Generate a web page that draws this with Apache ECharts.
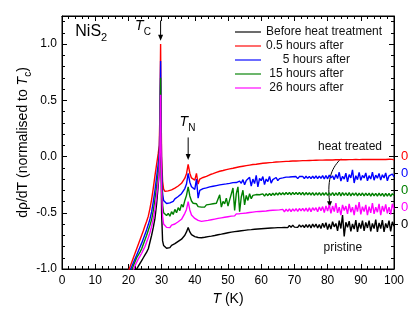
<!DOCTYPE html>
<html><head><meta charset="utf-8">
<script src="https://cdn.jsdelivr.net/npm/echarts@6/dist/echarts.min.js"></script>
<style>html,body{margin:0;padding:0;background:#fff}#c{width:415px;height:318px}</style>
</head><body><div id="c"></div>
<script>
const seriesNames = ['Before heat treatment', '0.5 hours after', '     5 hours after', ' 15 hours after', ' 26 hours after'];
const seriesColors = ['#000000', '#ff0000', '#0000ff', '#008000', '#ff00ff'];
const offsetTicks = [0, -0.15, -0.3, -0.45, -0.6];
const offsetColors = ['#ff0000', '#0000ff', '#008000', '#ff00ff', '#000000'];

const tempsLow = [19.5,20,20.5,21,21.5,22,22.5,23,23.5,24,24.5,25,25.5,26,26.5,27,27.5,28,28.5,29,29.3,29.5,29.6,29.7,29.8,30,30.3,30.6];
const tempsHigh = [31,31.5,32,32.5,33,33.5,34,34.5,35,35.5,
 36,36.5,37,37.5,38,38.5,39,39.5,40,40.5,
 41,41.5,42,42.5,43,43.5,44,44.5,45,45.5,
 46,46.5,47,47.5,48,48.5,49,49.5,50,50.5,
 51,51.5,52,52.5,53,53.5,54,54.5,55,55.5,
 56,56.5,57,57.5,58,58.5,59,59.5,60,60.5,
 61,61.5,62,62.5,63,63.5,64,64.5,65,65.5,
 66,66.5,67,67.5,68,68.5,69,69.5,70,70.5,
 71,71.5,72,72.5,73,73.5,74,74.5,75,75.5,
 76,76.5,77,77.5,78,78.5,79,79.5,80,80.5,
 81,81.5,82,82.5,83,83.5,84,84.5,85,85.5,
 86,86.5,87,87.5,88,88.5,89,89.5,90,90.5,
 91,91.5,92,92.5,93,93.5,94,94.5,95,95.5,
 96,96.5,97,97.5,98,98.5,99,99.5,100];

const blackVals = [-1.3,-1.25,-1.2,-1.14,-1.09,-1.04,-1.0,-0.975,-0.95,-0.925,-0.9,-0.875,-0.85,-0.82,-0.76,-0.7,-0.63,-0.55,-0.42,-0.25,-0.12,0.1,0.3,0.4,0.05,-0.5,-0.75,-0.79,
 -0.8,-0.815,-0.805,-0.81,-0.79,-0.795,-0.775,-0.78,-0.755,-0.76,
 -0.735,-0.72,-0.7,-0.67,-0.63,-0.67,-0.695,-0.705,-0.712,-0.708,
 -0.72,-0.712,-0.722,-0.71,-0.718,-0.705,-0.712,-0.7,-0.708,-0.695,
 -0.702,-0.69,-0.695,-0.682,-0.69,-0.676,-0.684,-0.67,-0.678,-0.665,
 -0.672,-0.66,-0.668,-0.655,-0.664,-0.65,-0.66,-0.646,-0.656,-0.643,
 -0.652,-0.64,-0.65,-0.636,-0.646,-0.634,-0.644,-0.63,-0.642,-0.628,
 -0.64,-0.626,-0.638,-0.624,-0.636,-0.622,-0.634,-0.62,-0.632,-0.618,
 -0.632,-0.616,-0.63,-0.614,-0.632,-0.612,-0.63,-0.61,-0.628,-0.612,
 -0.63,-0.608,-0.628,-0.61,-0.632,-0.606,-0.63,-0.604,-0.635,-0.6,
 -0.628,-0.6,-0.635,-0.605,-0.64,-0.592,-0.632,-0.588,-0.65,-0.6,
 -0.645,-0.58,-0.625,-0.595,-0.66,-0.57,-0.64,-0.52,-0.71,-0.585,
 -0.63,-0.575,-0.665,-0.6,-0.645,-0.565,-0.67,-0.59,-0.64,-0.57,
 -0.66,-0.585,-0.635,-0.57,-0.665,-0.595,-0.64,-0.56,-0.67,-0.59,
 -0.64,-0.565,-0.67,-0.595,-0.635,-0.57,-0.665,-0.58,-0.62];

const redVals = [-1.06,-1.02,-0.98,-0.94,-0.9,-0.86,-0.82,-0.78,-0.74,-0.7,-0.66,-0.615,-0.575,-0.53,-0.46,-0.38,-0.28,-0.17,-0.07,0.03,0.1,0.4,0.7,1.0,0.55,0.0,-0.22,-0.29,
 -0.31,-0.325,-0.305,-0.318,-0.296,-0.3,-0.28,-0.287,-0.262,-0.258,
 -0.238,-0.226,-0.192,-0.152,-0.07,-0.148,-0.19,-0.198,-0.21,-0.15,
 -0.245,-0.2,-0.198,-0.186,-0.19,-0.176,-0.174,-0.162,-0.163,-0.152,
 -0.153,-0.141,-0.143,-0.131,-0.134,-0.124,-0.128,-0.116,-0.121,-0.11,
 -0.113,-0.104,-0.108,-0.097,-0.101,-0.091,-0.095,-0.086,-0.09,-0.081,
 -0.085,-0.076,-0.081,-0.071,-0.077,-0.068,-0.073,-0.064,-0.069,-0.06,
 -0.066,-0.057,-0.063,-0.054,-0.06,-0.052,-0.058,-0.049,-0.056,-0.047,
 -0.054,-0.045,-0.052,-0.043,-0.05,-0.042,-0.049,-0.04,-0.048,-0.039,
 -0.046,-0.038,-0.045,-0.036,-0.044,-0.036,-0.043,-0.035,-0.042,-0.034,
 -0.041,-0.033,-0.041,-0.032,-0.04,-0.032,-0.039,-0.031,-0.039,-0.03,
 -0.038,-0.03,-0.038,-0.029,-0.037,-0.029,-0.037,-0.028,-0.037,-0.028,
 -0.036,-0.027,-0.036,-0.027,-0.036,-0.026,-0.035,-0.027,-0.035,-0.026,
 -0.035,-0.026,-0.034,-0.025,-0.034,-0.026,-0.035,-0.025,-0.034,-0.026,
 -0.033,-0.025,-0.034,-0.026,-0.033,-0.024,-0.034,-0.025,-0.03];

const blueVals = [-1.1,-1.06,-1.015,-0.98,-0.945,-0.91,-0.875,-0.84,-0.805,-0.77,-0.73,-0.69,-0.65,-0.605,-0.555,-0.49,-0.4,-0.3,-0.18,-0.06,0.02,0.3,0.6,0.85,0.45,-0.1,-0.33,-0.39,
 -0.405,-0.418,-0.408,-0.412,-0.395,-0.398,-0.376,-0.382,-0.355,-0.35,
 -0.33,-0.316,-0.285,-0.245,-0.15,-0.228,-0.268,-0.282,-0.292,-0.2,
 -0.37,-0.3,-0.296,-0.285,-0.292,-0.278,-0.283,-0.27,-0.277,-0.264,
 -0.27,-0.258,-0.264,-0.252,-0.26,-0.247,-0.255,-0.243,-0.25,-0.238,
 -0.246,-0.232,-0.24,-0.231,-0.236,-0.218,-0.238,-0.205,-0.25,-0.212,
 -0.228,-0.185,-0.262,-0.2,-0.24,-0.168,-0.27,-0.195,-0.214,-0.178,
 -0.25,-0.2,-0.222,-0.176,-0.236,-0.205,-0.212,-0.186,-0.214,-0.196,
 -0.205,-0.19,-0.2,-0.183,-0.198,-0.182,-0.196,-0.18,-0.197,-0.178,
 -0.196,-0.178,-0.195,-0.176,-0.197,-0.175,-0.194,-0.176,-0.196,-0.174,
 -0.195,-0.172,-0.196,-0.174,-0.193,-0.17,-0.2,-0.168,-0.198,-0.165,
 -0.19,-0.172,-0.205,-0.16,-0.196,-0.14,-0.218,-0.175,-0.2,-0.148,
 -0.226,-0.16,-0.19,-0.118,-0.235,-0.17,-0.205,-0.14,-0.212,-0.168,
 -0.19,-0.145,-0.215,-0.17,-0.2,-0.138,-0.21,-0.165,-0.192,-0.15,
 -0.21,-0.162,-0.19,-0.145,-0.215,-0.172,-0.185,-0.155,-0.18];

const greenVals = [-1.14,-1.1,-1.05,-1.01,-0.97,-0.935,-0.9,-0.875,-0.85,-0.82,-0.78,-0.74,-0.7,-0.655,-0.61,-0.56,-0.48,-0.38,-0.27,-0.14,-0.06,0.2,0.45,0.7,0.3,-0.2,-0.43,-0.5,
 -0.51,-0.525,-0.505,-0.53,-0.49,-0.515,-0.47,-0.5,-0.455,-0.48,
 -0.425,-0.45,-0.39,-0.345,-0.27,-0.35,-0.395,-0.415,-0.43,-0.42,
 -0.445,-0.44,-0.45,-0.435,-0.448,-0.43,-0.442,-0.425,-0.44,-0.42,
 -0.43,-0.415,-0.43,-0.34,-0.45,-0.4,-0.42,-0.37,-0.44,-0.385,
 -0.4,-0.28,-0.48,-0.33,-0.27,-0.49,-0.36,-0.3,-0.43,-0.345,
 -0.39,-0.33,-0.375,-0.345,-0.36,-0.338,-0.355,-0.34,-0.35,-0.332,
 -0.352,-0.33,-0.348,-0.328,-0.346,-0.326,-0.344,-0.324,-0.342,-0.322,
 -0.34,-0.322,-0.34,-0.32,-0.338,-0.32,-0.34,-0.318,-0.338,-0.32,
 -0.338,-0.32,-0.34,-0.318,-0.342,-0.32,-0.34,-0.322,-0.342,-0.32,
 -0.345,-0.322,-0.342,-0.32,-0.345,-0.322,-0.344,-0.32,-0.346,-0.322,
 -0.345,-0.32,-0.348,-0.322,-0.345,-0.318,-0.35,-0.32,-0.346,-0.322,
 -0.348,-0.32,-0.35,-0.324,-0.346,-0.322,-0.35,-0.326,-0.348,-0.324,
 -0.35,-0.325,-0.348,-0.326,-0.352,-0.325,-0.35,-0.327,-0.352,-0.326,
 -0.35,-0.328,-0.354,-0.327,-0.352,-0.328,-0.355,-0.33,-0.345];

const magentaVals = [-1.2,-1.15,-1.1,-1.05,-1.01,-0.97,-0.94,-0.91,-0.885,-0.86,-0.83,-0.8,-0.76,-0.72,-0.675,-0.62,-0.555,-0.47,-0.35,-0.22,-0.13,0.1,0.35,0.55,0.2,-0.3,-0.53,-0.6,
 -0.615,-0.63,-0.625,-0.632,-0.61,-0.618,-0.6,-0.605,-0.58,-0.585,
 -0.558,-0.545,-0.505,-0.47,-0.4,-0.475,-0.52,-0.535,-0.55,-0.545,
 -0.568,-0.56,-0.576,-0.565,-0.572,-0.56,-0.568,-0.552,-0.562,-0.548,
 -0.556,-0.542,-0.55,-0.535,-0.545,-0.53,-0.54,-0.525,-0.535,-0.52,
 -0.53,-0.515,-0.528,-0.51,-0.525,-0.508,-0.52,-0.505,-0.518,-0.502,
 -0.515,-0.498,-0.512,-0.494,-0.51,-0.49,-0.506,-0.488,-0.504,-0.486,
 -0.5,-0.484,-0.498,-0.48,-0.497,-0.478,-0.494,-0.476,-0.492,-0.474,
 -0.49,-0.47,-0.492,-0.468,-0.488,-0.466,-0.49,-0.465,-0.486,-0.464,
 -0.488,-0.462,-0.484,-0.46,-0.486,-0.458,-0.488,-0.456,-0.49,-0.455,
 -0.478,-0.455,-0.49,-0.448,-0.482,-0.445,-0.498,-0.44,-0.485,-0.43,
 -0.505,-0.44,-0.49,-0.415,-0.5,-0.45,-0.52,-0.43,-0.48,-0.44,
 -0.51,-0.42,-0.495,-0.45,-0.52,-0.43,-0.49,-0.405,-0.515,-0.445,
 -0.49,-0.43,-0.52,-0.445,-0.5,-0.415,-0.51,-0.45,-0.495,-0.42,
 -0.52,-0.44,-0.49,-0.425,-0.505,-0.45,-0.515,-0.42,-0.47];

const temps = tempsLow.concat(tempsHigh);
const allVals = [blackVals, redVals, blueVals, greenVals, magentaVals];

const FONT = '"Liberation Sans", Arial, sans-serif';
const chart = echarts.init(document.getElementById('c'), null, {renderer: 'canvas'});

const baseX = {
  type: 'value', min: 0, max: 100, interval: 10,
  axisLine: {show: true, onZero: false, lineStyle: {color: '#000', width: 1}},
  splitLine: {show: false},
  minorTick: {show: true, splitNumber: 5, length: 3, lineStyle: {color: '#000'}},
  axisTick: {show: true, inside: true, length: 5, lineStyle: {color: '#000'}}
};
const baseY = {
  type: 'value', min: -1, max: 1.25, interval: 0.5,
  axisLine: {show: true, onZero: false, lineStyle: {color: '#000', width: 1}},
  splitLine: {show: false},
  minorTick: {show: true, splitNumber: 5, length: 3, lineStyle: {color: '#000'}},
  axisTick: {show: true, inside: true, length: 5, lineStyle: {color: '#000'}}
};

const richOffsets = {};
offsetColors.forEach((c, i) => { richOffsets['c' + i] = {color: c, fontSize: 13, fontFamily: FONT}; });

const nameRich = {
  n: {fontSize: 14, color: '#000', fontFamily: FONT, lineHeight: 16, padding: [0, 0, 3, 0], verticalAlign: 'bottom'},
  i: {fontStyle: 'italic', fontSize: 14, color: '#000', fontFamily: FONT, lineHeight: 16, padding: [0, 0, 3, 0], verticalAlign: 'bottom'},
  s: {fontSize: 10, color: '#000', fontFamily: FONT, lineHeight: 10, verticalAlign: 'bottom'}
};

chart.setOption({
  animation: false,
  backgroundColor: '#fff',
  grid: {left: 62, right: 21, top: 16, bottom: 49, show: true, borderColor: '#000', borderWidth: 1, backgroundColor: 'transparent'},
  textStyle: {fontFamily: FONT},
  legend: {
    orient: 'vertical', left: 235, top: 26, padding: 0, itemWidth: 26, itemHeight: 12, itemGap: 2,
    icon: 'path://M0,5.4H27V6.6H0Z',
    textStyle: {fontSize: 12, color: '#111', fontFamily: FONT},
    data: seriesNames
  },
  xAxis: [
    Object.assign({}, baseX, {
      position: 'bottom',
      axisLabel: {color: '#000', fontSize: 12, margin: 6, fontFamily: FONT},
      name: '{i|T} (K)', nameLocation: 'middle', nameGap: 23,
      nameTextStyle: {fontSize: 14, color: '#000', fontFamily: FONT,
        rich: {i: {fontStyle: 'italic', fontSize: 14, color: '#000', fontFamily: FONT}}}
    }),
    Object.assign({}, baseX, {position: 'top', axisLabel: {show: false}})
  ],
  yAxis: [
    Object.assign({}, baseY, {
      position: 'left',
      axisLabel: {color: '#000', fontSize: 12, margin: 5, fontFamily: FONT, showMaxLabel: false,
        formatter: v => v.toFixed(1)},
      name: '{n|d\u03c1/dT (normalised to }{i|T}{s|c}{n|)}', nameLocation: 'middle', nameGap: 29,
      nameMoveOverlap: false,
      nameTextStyle: {fontSize: 14, color: '#000', fontFamily: FONT, rich: nameRich}
    }),
    Object.assign({}, baseY, {position: 'right', offset: 0, axisLabel: {show: false}}),
    {
      type: 'value', min: -1, max: 1.25, position: 'right', offset: 0,
      axisLine: {show: false, onZero: false}, splitLine: {show: false},
      axisTick: {show: true, inside: false, length: 4, customValues: offsetTicks, lineStyle: {color: '#000'}},
      axisLabel: {show: true, margin: 7, customValues: offsetTicks,
        formatter: v => { const i = offsetTicks.findIndex(o => Math.abs(o - v) < 1e-6); return '{c' + i + '|0}'; },
        rich: richOffsets}
    }
  ],
  series: seriesNames.map((n, k) => ({
    name: n, type: 'line', xAxisIndex: 0, yAxisIndex: 0,
    showSymbol: false, symbol: 'none', clip: true,
    color: seriesColors[k],
    lineStyle: {width: 1.4, color: seriesColors[k]},
    data: temps.map((t, i) => [t, allVals[k][i]])
  }))
});

// annotations anchored to data coordinates
const P = (x, y) => chart.convertToPixel({seriesIndex: 0}, [x, y]);
const arrowDown = (x, y) => ({type: 'polygon', shape: {points: [[x - 2.5, y - 6], [x + 2.5, y - 6], [x, y]]}, style: {fill: '#000'}});
const tcTop = P(29.7, 1.21), tcTip = P(29.7, 1.03);
const tnTop = P(38, 0.17), tnTip = P(38, -0.03);
const htStart = P(84, -0.02), htEnd = P(80.6, -0.45);
const lblTc = P(24.4, 1.13), lblTn = P(37.8, 0.28), lblNi = P(4, 1.09);
const lblHt = P(96.4, 0.09), lblPr = P(84.6, -0.81);
const subRich = {
  i: {fontStyle: 'italic', fontSize: 14, color: '#000', fontFamily: FONT, lineHeight: 16, padding: [0, 0, 4, 0], verticalAlign: 'bottom'},
  s: {fontSize: 10, color: '#000', fontFamily: FONT, lineHeight: 10, verticalAlign: 'bottom'}
};
chart.setOption({
  graphic: [
    {type: 'line', shape: {x1: tcTop[0], y1: tcTop[1], x2: tcTip[0], y2: tcTip[1] - 5}, style: {stroke: '#000', lineWidth: 1}},
    arrowDown(tcTip[0], tcTip[1]),
    {type: 'line', shape: {x1: tnTop[0], y1: tnTop[1], x2: tnTip[0], y2: tnTip[1] - 5}, style: {stroke: '#000', lineWidth: 1}},
    arrowDown(tnTip[0], tnTip[1]),
    {type: 'bezierCurve', shape: {x1: htStart[0], y1: htStart[1], cpx1: htStart[0] - 8, cpy1: htStart[1] + 8,
      cpx2: htEnd[0] - 3, cpy2: htEnd[1] - 30, x2: htEnd[0], y2: htEnd[1] - 5}, style: {stroke: '#000', lineWidth: 1, fill: null}},
    arrowDown(htEnd[0], htEnd[1]),
    {type: 'text', x: lblTc[0], y: lblTc[1], style: {text: '{i|T}{s|C}', rich: subRich, align: 'center', verticalAlign: 'middle'}},
    {type: 'text', x: lblTn[0], y: lblTn[1], style: {text: '{i|T}{s|N}', rich: subRich, align: 'center', verticalAlign: 'middle'}},
    {type: 'text', x: lblNi[0], y: lblNi[1], style: {text: '{a|NiS}{s|2}', align: 'left', verticalAlign: 'middle',
      rich: {a: {fontSize: 16, color: '#000', fontFamily: FONT, lineHeight: 18, padding: [0, 0, 3, 0], verticalAlign: 'bottom'},
             s: {fontSize: 11, color: '#000', fontFamily: FONT, lineHeight: 11, verticalAlign: 'bottom'}}}},
    {type: 'text', x: lblHt[0], y: lblHt[1], style: {text: 'heat treated', fontSize: 12, fill: '#111', fontFamily: FONT, align: 'right', verticalAlign: 'middle'}},
    {type: 'text', x: lblPr[0], y: lblPr[1], style: {text: 'pristine', fontSize: 12, fill: '#111', fontFamily: FONT, align: 'center', verticalAlign: 'middle'}}
  ]
});
</script>
</body></html>
